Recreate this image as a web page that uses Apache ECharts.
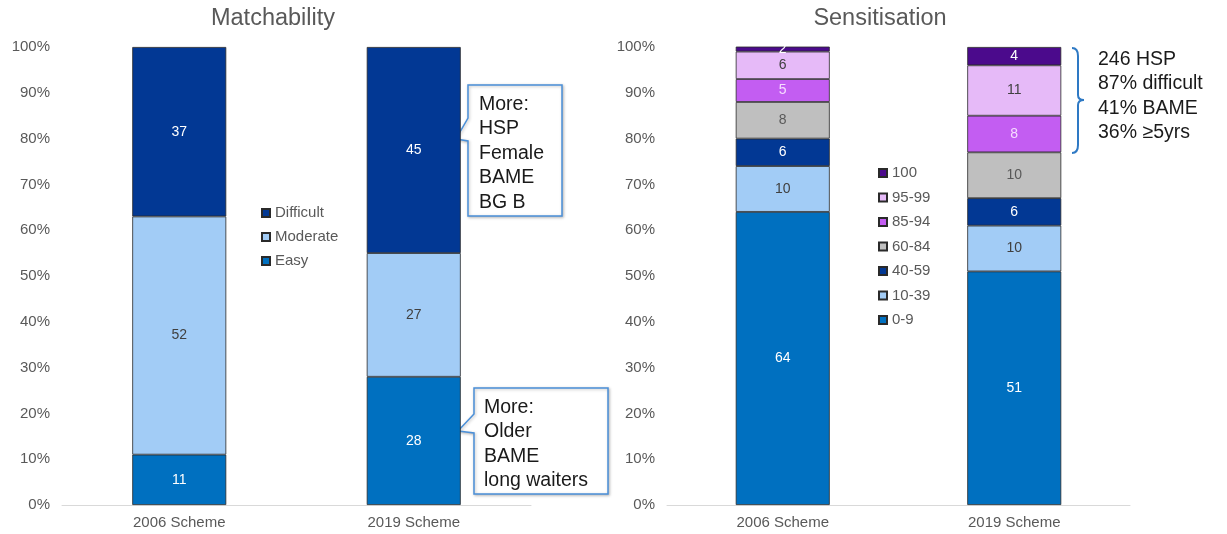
<!DOCTYPE html>
<html>
<head>
<meta charset="utf-8">
<script src="https://cdn.jsdelivr.net/npm/echarts@6/dist/echarts.min.js"></script>
<style>
  html, body { margin: 0; padding: 0; background: #fff; }
  #main { width: 1227px; height: 534px; }
</style>
</head>
<body>
<div id="main"></div>
<script>
  // categories
  const schemes = ['2006 Scheme', '2019 Scheme']

  // Matchability (% of patients)
  const easy = [11, 28]
  const moderate = [52, 27]
  const difficult = [37, 45]

  // Sensitisation (cRF bands, %)
  const sensNames = ['0-9', '10-39', '40-59', '60-84', '85-94', '95-99', '100']
  const s0_9 = [64, 51]
  const s10_39 = [10, 10]
  const s40_59 = [6, 6]
  const s60_84 = [8, 10]
  const s85_94 = [5, 8]
  const s95_99 = [6, 11]
  const s100 = [2, 4]

  const yTicks = [0, 10, 20, 30, 40, 50, 60, 70, 80, 90, 100]

  const myChart = echarts.init(document.getElementById('main'))

  const FONT = 'Liberation Sans, Arial, sans-serif'
  const GREY = '#595959'
  const BLUE_LINE = '#2e79c4'

  function bar(name, data, grid, color, labelColor) {
    return {
      name: name,
      type: 'bar',
      xAxisIndex: grid,
      yAxisIndex: grid,
      stack: 'g' + grid,
      data: data,
      barWidth: 94,
      itemStyle: { color: color, borderColor: '#2a2a2a', borderWidth: 0.8 },
      label: {
        show: true,
        position: 'inside',
        color: labelColor,
        fontSize: 14,
        fontFamily: FONT
      }
    }
  }

  const axisX = (i) => ({
    type: 'category',
    gridIndex: i,
    data: schemes,
    axisLine: { lineStyle: { color: '#d9d9d9', width: 1 } },
    axisTick: { show: false },
    axisLabel: { color: GREY, fontSize: 15, fontFamily: FONT, margin: 10 }
  })

  const axisY = (i) => ({
    type: 'value',
    gridIndex: i,
    min: yTicks[0],
    max: yTicks[yTicks.length - 1],
    interval: 10,
    splitLine: { show: false },
    axisLine: { show: false },
    axisTick: { show: false },
    axisLabel: { color: GREY, fontSize: 15, fontFamily: FONT, margin: 12, formatter: '{value}%' }
  })

  // callout box with a little pointer on its left side
  function callout(x0, y0, x1, y1, tip, b0, b1) {
    return {
      type: 'polygon',
      shape: { points: [[x0, y0], [x1, y0], [x1, y1], [x0, y1], [x0, b1], tip, [x0, b0]] },
      style: { fill: '#fff', stroke: '#4a8fd8', lineWidth: 1.5, shadowBlur: 3, shadowColor: 'rgba(0,0,0,0.25)', shadowOffsetX: 1, shadowOffsetY: 1 }
    }
  }

  function txt(x, y, text, size, color, align) {
    return {
      type: 'text',
      x: x, y: y,
      style: { text: text, fontSize: size, fontFamily: FONT, fill: color, lineHeight: 24.5, align: align || 'left' }
    }
  }

  const curve = (x1, y1, cx, cy, x2, y2) => ({
    type: 'bezierCurve',
    shape: { x1: x1, y1: y1, cpx1: cx, cpy1: cy, x2: x2, y2: y2 },
    style: { fill: 'none', stroke: BLUE_LINE, lineWidth: 2 }
  })
  const seg = (x1, y1, x2, y2) => ({
    type: 'line',
    shape: { x1: x1, y1: y1, x2: x2, y2: y2 },
    style: { stroke: BLUE_LINE, lineWidth: 2 }
  })

  const legendText = { color: GREY, fontSize: 15, fontFamily: FONT, lineHeight: 16 }

  let option = {
    animation: false,
    backgroundColor: '#fff',
    grid: [
      { left: 62, top: 47, width: 469, height: 458 },
      { left: 667, top: 47, width: 463, height: 458 }
    ],
    xAxis: [axisX(0), axisX(1)],
    yAxis: [axisY(0), axisY(1)],
    legend: [
      {
        orient: 'vertical',
        left: 256, top: 200,
        icon: 'rect',
        itemWidth: 8, itemHeight: 8, itemGap: 8,
        data: ['Difficult', 'Moderate', 'Easy'],
        textStyle: legendText
      },
      {
        orient: 'vertical',
        left: 873, top: 160,
        icon: 'rect',
        itemWidth: 8, itemHeight: 8, itemGap: 8.5,
        data: sensNames.slice().reverse(),
        textStyle: legendText
      }
    ],
    series: [
      bar('Easy', easy, 0, '#0070c0', '#ffffff'),
      bar('Moderate', moderate, 0, '#a2ccf6', '#404040'),
      bar('Difficult', difficult, 0, '#023894', '#ffffff'),
      bar('0-9', s0_9, 1, '#0070c0', '#ffffff'),
      bar('10-39', s10_39, 1, '#a2ccf6', '#404040'),
      bar('40-59', s40_59, 1, '#023894', '#ffffff'),
      bar('60-84', s60_84, 1, '#bfbfbf', '#595959'),
      bar('85-94', s85_94, 1, '#c35df2', '#f6dcff'),
      bar('95-99', s95_99, 1, '#e6baf8', '#404040'),
      bar('100', s100, 1, '#4b0a8c', '#ffffff')
    ],
    graphic: [
      txt(273, 6, 'Matchability', 23.5, GREY, 'center'),
      txt(880, 6, 'Sensitisation', 23.5, GREY, 'center'),
      callout(468, 85, 562, 216, [456, 139], 118, 141),
      txt(479, 92, 'More:\nHSP\nFemale\nBAME\nBG B', 19.5, '#1a1a1a'),
      callout(474, 388, 608, 494, [458, 431], 414, 433),
      txt(484, 395, 'More:\nOlder\nBAME\nlong waiters', 19.5, '#1a1a1a'),
      // curly bracket next to the 2019 sensitisation bar
      curve(1072, 48, 1078, 48, 1078, 56),
      seg(1078, 56, 1078, 95),
      curve(1078, 95, 1078, 100, 1084, 100),
      curve(1084, 100, 1078, 100, 1078, 105),
      seg(1078, 105, 1078, 145),
      curve(1078, 145, 1078, 153, 1072, 153),
      txt(1098, 47, '246 HSP\n87% difficult\n41% BAME\n36% \u22655yrs', 19.5, '#1a1a1a')
    ]
  }
  option && myChart.setOption(option)
  window.addEventListener('resize', () => {
    myChart.resize()
  })
</script>
</body>
</html>
